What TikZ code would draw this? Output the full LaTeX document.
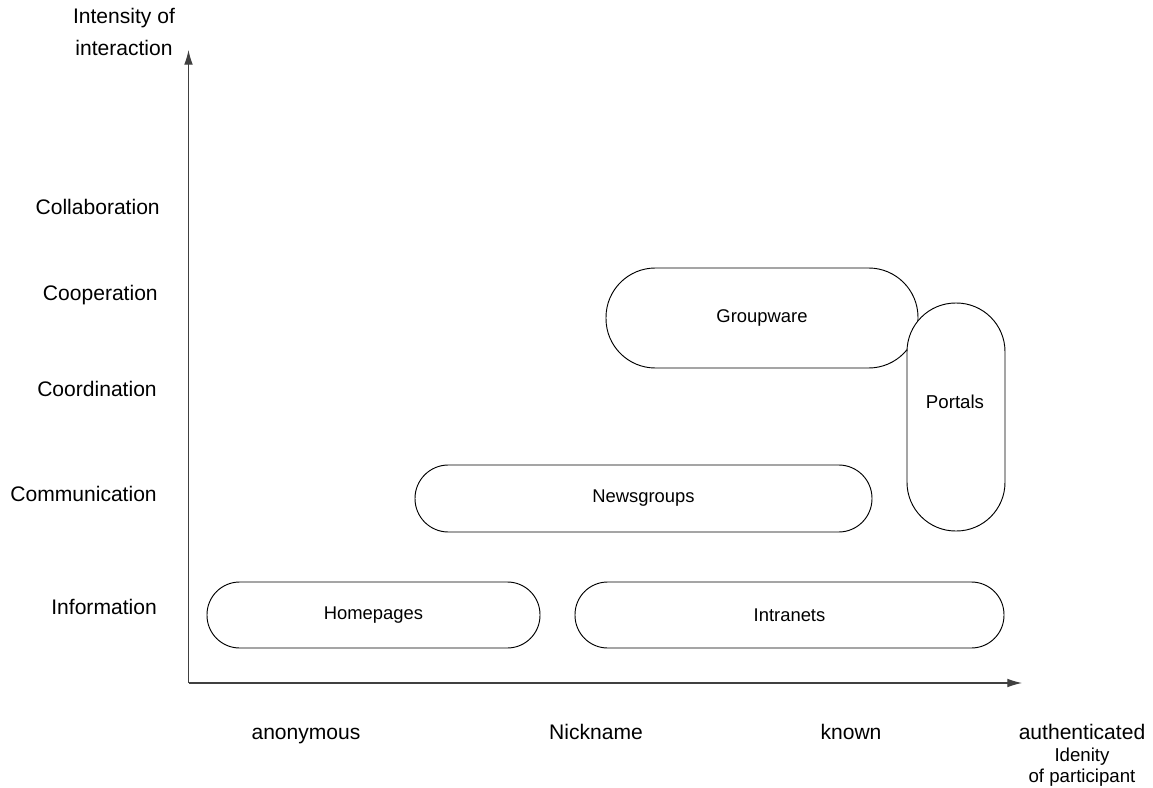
\documentclass[tikz,border=0pt]{standalone}
\usepackage{fontspec}
\setmainfont{Liberation Sans}
\usetikzlibrary{arrows.meta}
\begin{document}
\begin{tikzpicture}[x=0.75pt,y=-0.75pt,
  axis/.style={draw=black!75, line width=0.8pt, -{Latex[length=11pt,width=6.5pt]}},
  pill/.style={draw=black, fill=white, line width=0.7pt, rectangle, inner sep=0pt, font=\fontsize{13.8}{16}\selectfont},
  levellabel/.style={anchor=east, inner sep=0pt, font=\fontsize{15.8}{18}\selectfont},
  idlabel/.style={anchor=base, inner sep=0pt, font=\fontsize{15.8}{18}\selectfont},
  smalllabel/.style={anchor=base, inner sep=0pt, font=\fontsize{14}{16}\selectfont}]
\useasboundingbox (0,0) rectangle (1153,788);

% axes
\coordinate (origin) at (188.5,683);
\coordinate (ytip) at (188.5,50);
\coordinate (xtip) at (1022,683);
\draw[axis] (origin) -- (ytip);
\draw[axis] (origin) -- (xtip);

% axis title
\node[inner sep=0pt, align=center, font=\fontsize{15.8}{23.5}\selectfont] (ytitle) at (124,32) {Intensity of\\interaction};

% levels of interaction
\node[levellabel] (collab) at (160,207) {Collaboration};
\node[levellabel] (coop) at (158,295) {Cooperation};
\node[levellabel] (coord) at (157,389) {Coordination};
\node[levellabel] (comm) at (157,494) {Communication};
\node[levellabel] (info) at (157,607) {Information};

% identity of participant
\node[idlabel] (anon) at (306,739) {anonymous};
\node[idlabel] (nick) at (596,739) {Nickname};
\node[idlabel] (known) at (851,739) {known};
\node[idlabel] (auth) at (1082,739) {authenticated};
\node[smalllabel] (iden) at (1082,761.5) {Idenity};
\node[smalllabel] (ofpart) at (1082,782) {of participant};

% applications
\node[pill, rounded corners=24.5pt, minimum width=249.75pt, minimum height=49.5pt] (home) at (373.5,615) {Homepages};
\node[pill, rounded corners=24.5pt, minimum width=321.75pt, minimum height=49.5pt] (intra) at (789.5,615) {Intranets};
\node[pill, rounded corners=25pt, minimum width=342.75pt, minimum height=50.25pt] (news) at (643.5,498.5) {Newsgroups};
\node[pill, rounded corners=37pt, minimum width=234pt, minimum height=75pt] (group) at (762,318) {Groupware};
% portals lies on top of groupware and hides its overlapping part
\node[pill, rounded corners=36.5pt, minimum width=73.5pt, minimum height=171pt] (portals) at (956,417) {};
\node[smalllabel, anchor=center] (portalstext) at (955,402) {Portals};
\end{tikzpicture}
\end{document}
